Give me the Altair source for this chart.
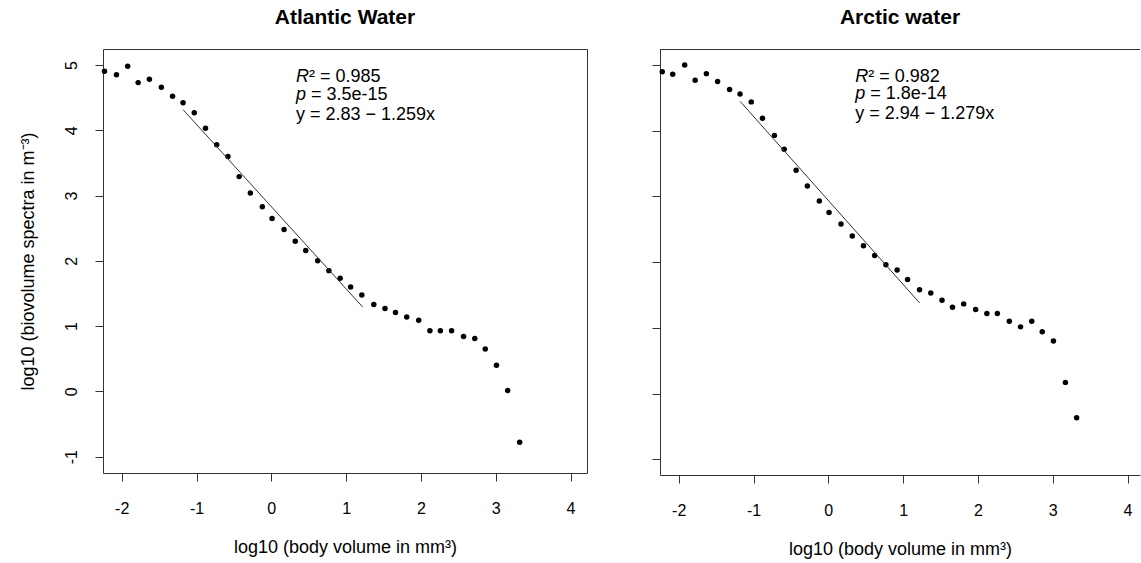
import altair as alt
import pandas as pd

FONT = "Liberation Sans"

# ---- data ----
atl_x = [-2.23, -2.07, -1.92, -1.78, -1.63, -1.47, -1.32, -1.18, -1.03, -0.88,
         -0.73, -0.58, -0.43, -0.28, -0.12, 0.01, 0.17, 0.32, 0.46, 0.62,
         0.77, 0.92, 1.06, 1.21, 1.37, 1.52, 1.66, 1.81, 1.97, 2.12,
         2.26, 2.41, 2.57, 2.72, 2.86, 3.01, 3.16, 3.32]
atl_y = [4.905, 4.85, 4.98, 4.73, 4.78, 4.66, 4.52, 4.42, 4.27, 4.03,
         3.78, 3.60, 3.29, 3.04, 2.83, 2.65, 2.48, 2.30, 2.16, 2.00,
         1.85, 1.735, 1.60, 1.475, 1.33, 1.27, 1.21, 1.14, 1.09, 0.93,
         0.93, 0.93, 0.84, 0.81, 0.65, 0.40, 0.015, -0.78]

arc_x = [-2.22, -2.08, -1.92, -1.78, -1.63, -1.48, -1.32, -1.18, -1.03, -0.88,
         -0.72, -0.59, -0.43, -0.28, -0.12, 0.01, 0.17, 0.32, 0.47, 0.62,
         0.77, 0.92, 1.06, 1.22, 1.37, 1.52, 1.66, 1.81, 1.97, 2.12,
         2.26, 2.42, 2.57, 2.72, 2.86, 3.01, 3.17, 3.32]
arc_y = [4.90, 4.86, 5.00, 4.77, 4.87, 4.75, 4.63, 4.56, 4.44, 4.19,
         3.93, 3.72, 3.40, 3.16, 2.93, 2.755, 2.58, 2.40, 2.25, 2.10,
         1.96, 1.88, 1.735, 1.58, 1.53, 1.42, 1.315, 1.365, 1.28, 1.22,
         1.22, 1.10, 1.015, 1.10, 0.94, 0.80, 0.17, -0.37]

# fitted regression segments (end points)
atl_fit_x = [-1.18, 1.22]
atl_fit_y = [4.316, 1.294]
arc_fit_x = [-1.18, 1.22]
arc_fit_y = [4.449, 1.380]

# annotation texts
atl_lbl = ["R", "\u00b2 = 0.985", "p", "= 3.5e-15", "y = 2.83 \u2212 1.259x"]
arc_lbl = ["R", "\u00b2 = 0.982", "p", "= 1.8e-14", "y = 2.94 \u2212 1.279x"]
atl_ann_x = 0.33
atl_ann_y = [4.74, 4.47, 4.165]
arc_ann_x = 0.36
arc_ann_y = [4.75, 4.485, 4.18]

x_ticks = [-2, -1, 0, 1, 2, 3, 4]
y_ticks = [-1, 0, 1, 2, 3, 4, 5]
atl_x_domain = [-2.25, 4.22]
atl_y_domain = [-1.25, 5.245]
# right panel is cut by the picture's right edge
arc_x_domain = [-2.25, 4.167]
arc_y_domain = [-1.24, 5.245]

X_TITLE = "log10 (body volume in mm\u00b3)"
Y_TITLE = "log10 (biovolume spectra in m\u207b\u00b3)"

LABEL_EXPR = "'' + datum.value"
FRAME = "#333333"


def panel(xs, ys, fx, fy, lbl, ax, ay, title, xdom, ydom, w, h, show_y):
    pts = pd.DataFrame({"x": xs, "y": ys})
    fit = pd.DataFrame({"x": fx, "y": fy})

    xscale = alt.Scale(domain=xdom, nice=False, zero=False)
    yscale = alt.Scale(domain=ydom, nice=False, zero=False)

    xaxis = alt.Axis(values=x_ticks, title=X_TITLE, grid=False,
                     domain=not show_y, domainColor=FRAME, domainWidth=1,
                     tickSize=8, tickColor=FRAME, labelColor="black",
                     labelFontSize=16, labelFont=FONT, labelPadding=19,
                     titleFont=FONT, titleFontSize=18, titleFontWeight="normal",
                     titleColor="black", titlePadding=22, labelExpr=LABEL_EXPR)
    if show_y:
        yaxis = alt.Axis(values=y_ticks, title=Y_TITLE, grid=False, domain=False,
                         tickSize=8, tickColor=FRAME, labelColor="black",
                         labelFontSize=16, labelFont=FONT, labelAngle=270,
                         labelAlign="center", labelBaseline="bottom",
                         labelPadding=16, titleFont=FONT, titleFontSize=18,
                         titleFontWeight="normal", titleColor="black",
                         titlePadding=26, labelExpr=LABEL_EXPR)
    else:
        yaxis = alt.Axis(values=y_ticks, title=None, labels=False, grid=False,
                         domain=True, domainColor=FRAME, domainWidth=1,
                         tickSize=8, tickColor=FRAME)

    p = alt.Chart(pts).mark_circle(size=30, color="black", opacity=1).encode(
        x=alt.X("x:Q", scale=xscale, axis=xaxis),
        y=alt.Y("y:Q", scale=yscale, axis=yaxis),
    )
    l = alt.Chart(fit).mark_line(color="#333333", strokeWidth=1).encode(
        x=alt.X("x:Q", scale=xscale), y=alt.Y("y:Q", scale=yscale))

    ann = pd.DataFrame({
        "x": [ax] * 5,
        "y": [ay[0], ay[0], ay[1], ay[1], ay[2]],
        "t": lbl,
    })
    styles = ["italic", "normal", "italic", "normal", "normal"]
    shifts = [0, 13, 0, 15, 0]
    layers = [p, l]
    for i in range(5):
        layers.append(
            alt.Chart(ann.iloc[[i]]).mark_text(
                align="left", baseline="alphabetic", font=FONT, fontSize=18,
                fontStyle=styles[i], dx=shifts[i], color="black"
            ).encode(x=alt.X("x:Q", scale=xscale), y=alt.Y("y:Q", scale=yscale),
                     text="t:N")
        )
    props = dict(
        width=w, height=h,
        title=alt.TitleParams(title, font=FONT, fontSize=21, fontWeight="bold",
                              anchor="middle", baseline="alphabetic", offset=4,
                              color="black"),
    )
    if not show_y:
        # top edge of the box (right edge lies outside the picture)
        top = alt.Chart(pd.DataFrame({"a": [0]})).mark_rule(
            color=FRAME, strokeWidth=1).encode(
            x=alt.value(0), x2=alt.value(w), y=alt.value(0.5))
        layers.append(top)
        props["view"] = alt.ViewBackground(stroke="transparent")
    return alt.layer(*layers).properties(**props)


left = panel(atl_x, atl_y, atl_fit_x, atl_fit_y, atl_lbl, atl_ann_x, atl_ann_y,
             "Atlantic Water", atl_x_domain, atl_y_domain, 484, 424, True)
right = panel(arc_x, arc_y, arc_fit_x, arc_fit_y, arc_lbl, arc_ann_x, arc_ann_y,
              "Arctic water", arc_x_domain, arc_y_domain, 480, 426, False)

chart = alt.hconcat(left, right, spacing=63).properties(
    padding={"left": 18, "top": 6, "right": 0, "bottom": 0},
    background="white",
).configure_view(stroke=FRAME, strokeWidth=1)

chart.save("out.html", embed_options={"renderer": "svg", "actions": False})
